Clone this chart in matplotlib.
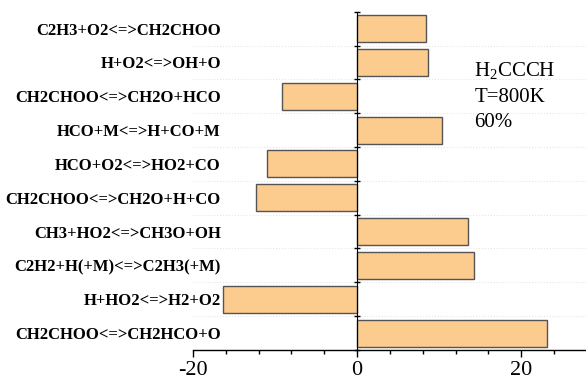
import numpy as np
import matplotlib
matplotlib.use("Agg")
import matplotlib.pyplot as plt
from matplotlib.ticker import MultipleLocator

reactions = [
    "C2H3+O2<=>CH2CHOO",
    "H+O2<=>OH+O",
    "CH2CHOO<=>CH2O+HCO",
    "HCO+M<=>H+CO+M",
    "HCO+O2<=>HO2+CO",
    "CH2CHOO<=>CH2O+H+CO",
    "CH3+HO2<=>CH3O+OH",
    "C2H2+H(+M)<=>C2H3(+M)",
    "H+HO2<=>H2+O2",
    "CH2CHOO<=>CH2HCO+O",
]
sensitivity = [8.4, 8.7, -9.2, 10.3, -11.0, -12.3, 13.5, 14.3, -16.3, 23.1]
xticks = [-20, 0, 20]

plt.rcParams['font.family'] = ['Liberation Serif', 'DejaVu Serif']
plt.rcParams['axes.unicode_minus'] = False
plt.rcParams['mathtext.fontset'] = 'custom'
plt.rcParams['mathtext.rm'] = 'Liberation Serif'

fig = plt.figure(figsize=(5.86, 3.83), dpi=100)
ax = fig.add_axes([0.3294, 0.0862, 0.6706, 0.8833])

ypos = np.arange(len(reactions))
ax.barh(ypos, sensitivity, height=0.8, color="#FCCB8E",
        edgecolor="#555555", linewidth=1.0, zorder=3)

ax.set_xlim(-20, 27.9)
ax.set_ylim(len(reactions) - 0.5, -0.5)

# faint dotted lines between categories
for b in np.arange(0.5, len(reactions) - 0.5, 1.0):
    ax.axhline(b, color="#e6e6e6", linestyle=":", linewidth=0.8, zorder=1)

ax.spines['top'].set_visible(False)
ax.spines['right'].set_visible(False)
ax.spines['left'].set_position(('data', 0))
ax.spines['left'].set_zorder(4)
ax.spines['bottom'].set_linewidth(1.0)

ax.set_yticks(ypos)
ax.set_yticklabels(reactions, fontsize=12, fontweight='bold')
ax.set_yticks(np.arange(-0.5, len(reactions), 1.0), minor=True)
ax.tick_params(axis='y', which='major', length=0, pad=98)
ax.tick_params(axis='y', which='minor', direction='inout', length=5, width=1.0)

ax.set_xticks(xticks)
ax.xaxis.set_minor_locator(MultipleLocator(4))
ax.tick_params(axis='x', which='major', direction='out', length=5, width=1.0,
               labelsize=16, pad=3)
ax.tick_params(axis='x', which='minor', direction='out', length=3, width=1.0)

ax.text(14.3, 2.0, "H$_2$CCCH\nT=800K\n60%", fontsize=15, va='center',
        ha='left', linespacing=1.45)

fig.savefig("out.png", dpi=100)
